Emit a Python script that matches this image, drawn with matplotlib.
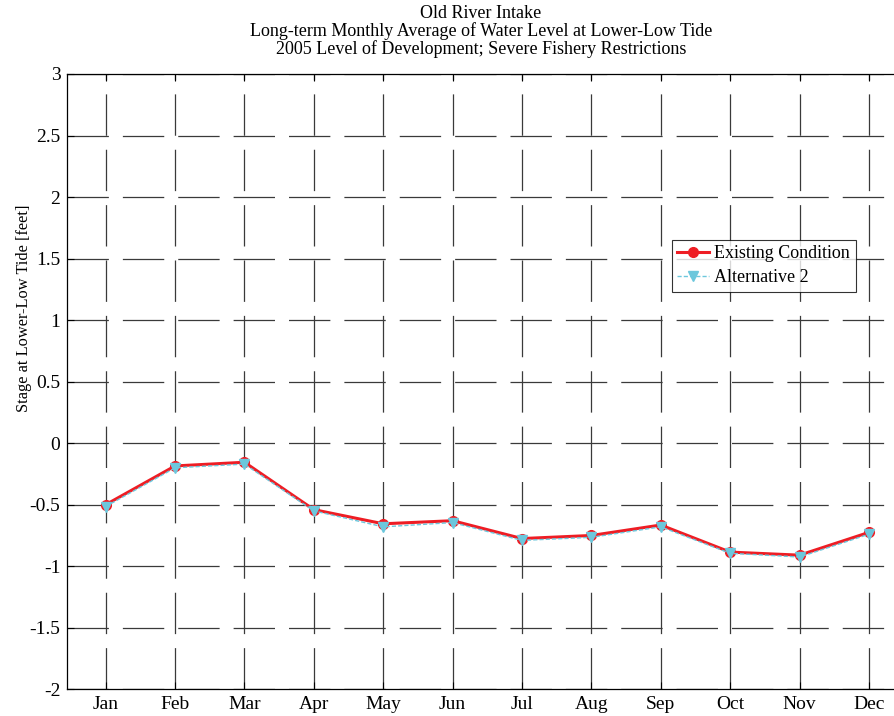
import numpy as np
import matplotlib
matplotlib.use('Agg')
import matplotlib.pyplot as plt

months = ['Jan', 'Feb', 'Mar', 'Apr', 'May', 'Jun', 'Jul', 'Aug', 'Sep', 'Oct', 'Nov', 'Dec']
existing = [-0.50, -0.185, -0.155, -0.54, -0.655, -0.63, -0.775, -0.75, -0.665, -0.885, -0.91, -0.725]
alternative2 = [-0.515, -0.20, -0.17, -0.55, -0.68, -0.645, -0.79, -0.765, -0.68, -0.895, -0.925, -0.74]
yticks = [-2, -1.5, -1, -0.5, 0, 0.5, 1, 1.5, 2, 2.5, 3]
yticklabels = ['-2', '-1.5', '-1', '-0.5', '0', '0.5', '1', '1.5', '2', '2.5', '3']

plt.rcParams['font.family'] = ['Liberation Serif', 'DejaVu Serif']
fs = 13
fs_tick = 14
fs_ylab = 11.8

fig = plt.figure(figsize=(8.95, 7.16), dpi=100)
W, H = 895.0, 716.0
ax = fig.add_axes([67.3 / W, (H - 689.3) / H, 840.0 / W, 615.3 / H])

x = np.arange(1, 13)
ax.plot(x, existing, color='#ee1d24', lw=2.2, marker='o', ms=7,
        mec='#ee1d24', mfc='#ee1d24', label='Existing Condition', zorder=3)
ax.plot(x, alternative2, color='#6cc7dc', lw=1.0, ls=(0, (3, 1.5)), marker='v', ms=7.5,
        mec='#6cc7dc', mfc='#6cc7dc', label='Alternative 2', zorder=4)

ax.set_xlim(0.447, 12.553)
ax.set_ylim(-2, 3)
ax.set_xticks(x)
ax.set_xticklabels(months, fontsize=fs_tick)
ax.set_yticks(yticks)
ax.set_yticklabels(yticklabels, fontsize=fs_tick)
ax.tick_params(direction='in', length=5, width=0.8, top=True, right=True, pad=5)

# dashed grid, long dashes with short gaps
ax.grid(True, color='#3a3a3a', lw=0.9, ls=(0, (33.1, 11.2)))
ax.set_axisbelow(True)
for s in ax.spines.values():
    s.set_linewidth(0.9)

ax.set_ylabel('Stage at Lower-Low Tide [feet]', fontsize=fs_ylab)
# label sits above the axes centre in the original
ax.yaxis.set_label_coords((32 - 67.3) / 840.0, (689.3 - 308) / 615.3)

tx = 481 / W
fig.text(tx, 1 - 13 / H, 'Old River Intake', ha='center', va='center', fontsize=fs)
fig.text(tx, 1 - 31 / H, 'Long-term Monthly Average of Water Level at Lower-Low Tide',
         ha='center', va='center', fontsize=fs)
fig.text(tx, 1 - 49 / H, '2005 Level of Development; Severe Fishery Restrictions',
         ha='center', va='center', fontsize=fs)

leg = ax.legend(loc='upper left', bbox_to_anchor=((672 - 67.3) / 840.0, (689.3 - 240) / 615.3),
                fontsize=fs, frameon=True, fancybox=False, edgecolor='black',
                borderpad=0.3, labelspacing=0.38, handlelength=1.75, handletextpad=0.3,
                borderaxespad=0)
leg.get_frame().set_linewidth(0.8)

fig.savefig('out.png', dpi=100, facecolor='white')
